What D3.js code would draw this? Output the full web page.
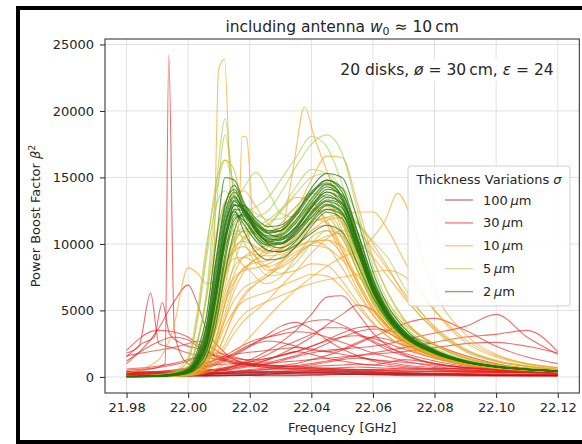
<!DOCTYPE html>
<html>
<head>
<meta charset="utf-8">
<script src="https://cdn.jsdelivr.net/npm/d3@7"></script>
<style>
body { margin: 0; background: #fff; }
text { font-family: "DejaVu Sans", sans-serif; fill: #262626; }
</style>
</head>
<body>
<script>
// frequency grid (GHz) shared by most of the curves
var freqGrid = [21.98, 21.99, 21.995, 22.0, 22.003, 22.006, 22.009, 22.012, 22.015, 22.018, 22.022, 22.026, 22.03,
  22.035, 22.04, 22.045, 22.05, 22.055, 22.06, 22.065, 22.07, 22.08, 22.09, 22.10, 22.11, 22.12];

var xTicks = [21.98, 22.00, 22.02, 22.04, 22.06, 22.08, 22.10, 22.12];
var yTicks = [0, 5000, 10000, 15000, 20000, 25000];
var sigmaLabels = ["100", "30", "10", "5", "2"];

// sigma = 100 um
var curves100 = [
  [100,120,150,180,200,220,250,280,300,320,350,380,400,420,430,420,400,380,350,320,300,260,230,200,180,160],
  [50,60,70,80,90,100,120,140,160,180,200,220,240,260,280,300,310,300,280,260,240,200,170,150,130,120],
  [300,250,200,180,160,150,140,130,120,110,100,90,90,100,120,150,180,200,220,230,220,200,170,150,130,120],
  [80,100,130,160,200,250,300,350,400,450,500,550,600,650,600,550,500,450,400,350,300,250,200,170,150,130],
  [30,40,50,60,70,80,90,100,110,120,130,140,150,160,170,180,190,200,210,200,190,170,150,130,120,110],
  [200,220,240,260,280,300,320,340,360,380,400,420,440,460,480,500,520,540,560,580,600,620,640,600,500,400],
  [150,130,110,100,90,80,80,90,100,120,150,200,250,300,350,300,250,200,150,120,100,90,80,70,60,50],
  [60,70,90,110,140,170,200,230,260,290,320,340,350,340,320,290,260,230,200,180,160,140,120,100,90,80],
  [400,380,350,320,300,280,260,250,240,240,250,270,300,330,360,380,370,340,300,270,240,210,190,170,160,150]
];

// sigma = 30 um
var curves30 = [
  [1000,3500,5500,6900,5500,3500,2500,1800,1300,1000,800,700,600,550,500,450,420,380,340,310,290,260,240,220,200,190],
  [2000,3500,3400,3000,2500,2000,1600,1300,1100,1000,900,850,800,750,700,650,600,550,500,480,460,420,380,350,320,300],
  [200,250,300,350,400,450,500,550,600,700,800,1000,1200,1500,1800,2000,2100,2200,2300,2500,2800,3300,3800,4700,3000,1700],
  [150,200,220,250,280,300,320,350,400,450,500,600,700,850,1000,1200,1400,1600,1800,2000,2200,2600,3000,3200,3500,1900],
  [100,150,200,250,300,400,500,700,900,1100,1500,2000,2600,3500,4700,6000,6100,4800,3300,2300,1700,1000,700,500,400,330],
  [80,100,150,200,250,300,400,500,650,800,1000,1300,1700,2300,3000,3900,4700,5400,5000,3800,2700,1500,900,600,450,360],
  [150,200,300,400,500,700,900,1200,1600,2000,2600,3200,3800,4100,3600,2800,2100,1600,1200,950,800,600,480,400,340,300],
  [100,120,150,180,200,250,300,350,400,500,600,700,850,1000,1300,1600,2000,2500,3000,3500,4000,4400,3500,2300,1500,1000],
  [500,700,900,1200,1500,1700,1800,1700,1500,1300,1100,1300,1600,1900,1700,1400,1200,1000,900,1100,1300,1000,700,500,400,350],
  [200,300,400,600,800,1000,1300,1600,2000,2400,2800,3000,3200,3400,3300,3000,2600,2200,1800,1500,1200,800,550,400,330,280],
  [300,400,500,600,700,800,900,950,1000,1000,950,900,850,800,800,850,900,950,900,800,700,550,450,380,330,300],
  [1600,2000,2200,2500,2700,2500,2000,1600,1300,1100,950,850,800,800,900,1100,1300,1400,1300,1100,900,700,550,450,380,330],
  [250,300,350,400,450,500,550,600,700,800,900,1000,1100,1200,1300,1400,1500,1600,1700,1800,1900,2200,2500,2600,2300,1800],
  [100,150,200,250,300,400,500,600,800,1000,1300,1700,2200,2700,3200,3700,3700,3200,2600,2000,1600,1000,700,500,400,330],
  [1200,2600,3000,2800,2300,1900,1500,1200,1000,900,800,700,650,600,600,650,700,750,700,650,600,500,420,370,330,300],
  [300,350,400,500,600,800,1000,1300,1700,2100,2500,2700,2600,2300,2000,1900,2100,2600,3000,2800,2400,1600,1000,700,500,400],
  [50,80,100,150,200,300,400,600,800,1000,1200,1400,1600,1900,2300,2800,3300,3700,3800,3300,2700,1700,1100,750,550,420],
  [200,300,400,500,700,900,1100,1400,1800,2200,2600,3000,3400,3800,4200,4300,3900,3300,2700,2200,1800,1200,800,550,420,340],
  [600,800,1000,1300,1500,1600,1600,1500,1400,1300,1300,1400,1600,1900,2300,2700,3000,3100,2900,2500,2100,1400,900,600,450,370],
  [100,150,200,300,400,500,600,700,800,900,1000,1100,1300,1600,2000,2500,3000,3400,3600,3500,3200,2400,1600,1000,650,460],
  [300,400,500,700,900,1100,1300,1500,1700,1800,1900,2000,2100,2200,2100,1900,1700,1500,1300,1200,1100,900,700,550,450,380]
];
// 30 um curves with narrow spikes, own frequency points
var spike30F = [
  [21.98,21.985,21.99,21.9925,21.9937,21.9955,21.998,22.0,22.005,22.01,22.02,22.03,22.04,22.05,22.06,22.07,22.08,22.09,22.10,22.11,22.12],
  [21.98,21.984,21.9878,21.9905,21.995,22.0,22.01,22.02,22.03,22.04,22.05,22.06,22.07,22.08,22.09,22.10,22.11,22.12],
  [21.98,21.985,21.989,21.9916,21.994,21.998,22.005,22.01,22.02,22.03,22.04,22.05,22.06,22.07,22.08,22.09,22.10,22.11,22.12]
];
var spike30V = [
  [400,500,700,1000,24200,3500,1500,1000,600,500,400,350,300,280,260,240,220,200,190,180,170],
  [1800,2300,6300,2500,2200,1800,1300,900,700,600,500,450,400,380,350,330,300,280],
  [1500,2500,3000,5600,3200,2500,2000,1500,1000,800,700,600,500,450,400,380,350,320,300]
];

// sigma = 10 um
var curves10 = [
  [20,45,90,220,600,1300,2800,5500,7800,9000,9500,10000,10800,12500,14800,16600,16500,13000,9000,6300,4400,2400,1400,900,650,480],
  [15,30,60,150,450,1000,2400,4800,7000,8200,8600,8800,9500,10500,11500,12000,12200,12400,12400,11000,8800,5000,2600,1500,950,650],
  [50,120,300,1200,4500,9500,14500,16300,15500,12000,9000,8000,8200,9000,10000,10300,9200,7200,5200,3700,2700,1600,1000,700,520,400],
  [300,1200,3500,8200,7800,7000,7200,8500,9500,9800,9000,8200,7800,8000,8500,8400,7200,5600,4100,3000,2300,1400,900,640,480,380],
  [30,70,150,400,1000,2200,5000,8500,10500,11200,11000,10800,11500,12800,13800,13500,11000,8000,5500,3800,2800,1650,1030,720,530,410],
  [20,45,90,250,650,1500,3500,6000,7500,8000,8200,8500,9000,9800,10200,9800,8200,6300,4600,3400,2500,1500,950,670,500,390],
  [15,30,60,130,320,700,1600,3200,4800,6000,7000,7600,8300,9200,10000,10600,10800,10200,9000,7500,6000,3600,2000,1200,800,560],
  [40,100,250,800,2600,6000,10500,13200,13800,14000,12800,11500,11000,11500,12500,12800,11500,8800,6100,4300,3100,1800,1100,750,560,430],
  [20,45,100,280,750,1800,4200,7500,9500,10500,11000,11500,12400,13500,13200,11500,9000,6600,4700,3400,2500,1500,950,670,500,390],
  [15,30,55,110,260,600,1300,2500,3800,4700,5300,5700,6100,6600,7000,7300,7500,7700,7900,8000,7600,5000,2800,1600,1000,700],
  [15,35,70,160,420,1000,2200,3800,5000,5700,6100,6400,6800,7300,7700,7600,6700,5300,4000,3000,2300,1400,900,640,480,380],
  [25,60,130,350,900,2100,4700,8000,9800,10200,9800,9400,9600,10600,12000,12600,11700,9000,6400,4500,3200,1850,1120,760,570,430],
  [20,40,80,200,550,1300,3000,5500,7200,8100,8900,9800,10900,12200,12700,11800,9500,7000,5000,3600,2600,1550,980,690,510,400],
  [35,80,180,500,1400,3300,6800,9800,10800,10500,9700,9300,9700,10900,11900,11600,9800,7300,5200,3700,2700,1600,1000,700,520,400],
  [10,25,50,120,300,700,1600,3200,5000,6200,7000,7600,8500,9800,11000,11800,12000,11500,10000,8200,6200,3500,1900,1150,780,560],
  [20,40,80,200,500,1100,2400,4300,5800,6700,7200,7800,8600,9400,9900,9700,8800,7600,6300,5100,4000,2400,1450,920,660,490],
  [25,55,110,280,700,1600,3600,6400,8300,9000,9200,9100,9200,9700,10200,10300,9800,8600,7000,5500,4200,2500,1500,950,670,500],
  [10,20,40,90,220,500,1100,2200,3300,4200,5000,5800,6800,8000,9300,10400,11000,10800,9600,8000,6400,3800,2100,1250,830,580],
  [30,70,140,380,1000,2300,5000,7800,8900,9000,8600,8300,8700,9800,11000,11400,10400,8000,5800,4100,3000,1750,1080,740,550,420]
];
var spike10F = [
  [21.98,21.99,22.0,22.005,22.008,22.0099,22.0118,22.0137,22.016,22.02,22.025,22.03,22.035,22.04,22.045,22.05,22.055,22.06,22.07,22.08,22.09,22.10,22.11,22.12],
  [21.98,21.99,22.0,22.005,22.01,22.014,22.0165,22.0175,22.019,22.021,22.025,22.03,22.035,22.04,22.045,22.05,22.055,22.06,22.07,22.08,22.09,22.10,22.11,22.12],
  [21.98,21.99,22.0,22.005,22.01,22.015,22.02,22.025,22.03,22.034,22.0378,22.041,22.045,22.05,22.055,22.06,22.065,22.07,22.08,22.09,22.10,22.11,22.12],
  [21.98,21.99,22.0,22.01,22.02,22.03,22.04,22.05,22.056,22.06,22.064,22.068,22.072,22.076,22.08,22.09,22.10,22.11,22.12]
];
var spike10V = [
  [40,90,400,1800,6000,23100,23900,14000,9000,8000,7000,7500,9000,10500,11000,9500,7000,5000,2800,1600,1000,700,520,400],
  [30,70,300,1500,5000,9000,12000,18100,18000,12000,10000,9500,10000,11500,12000,10500,8000,5600,3000,1700,1050,720,530,410],
  [20,40,200,900,3000,6500,8500,9200,10500,15500,20300,18000,15500,12000,8500,5800,4000,2900,1700,1050,730,540,420],
  [10,20,80,700,3000,5500,7500,9000,9600,10500,11800,13800,12200,9000,6500,3200,1700,1000,700]
];

// sigma = 5 um
var curves5 = [
  [50,110,250,800,2800,6500,14000,19400,13500,12500,11500,10800,11000,11800,13000,13600,12300,9000,6000,4200,3000,1800,1100,760,560,430],
  [45,100,220,700,2500,6000,12500,18200,13800,12600,11200,10400,10500,11600,13200,14300,13200,9800,6600,4500,3200,1850,1120,760,570,430],
  [30,60,120,330,900,2200,5200,9000,11500,12300,12800,13500,14800,16500,18100,17300,14500,10500,7200,5000,3500,2000,1200,800,590,450],
  [20,45,90,250,700,1700,4200,7800,10500,11800,12000,12500,13800,15800,17500,18200,16800,12500,8300,5600,3900,2200,1300,850,620,460],
  [45,100,210,600,1800,4800,10000,13000,13300,14200,15400,14000,12300,12000,12800,13200,12000,9000,6200,4300,3100,1800,1100,750,560,430],
  [60,140,320,1200,4200,9000,12800,14000,12800,11500,10300,9900,10200,11200,12500,13000,11600,8400,5700,4000,2900,1700,1050,730,540,420],
  [35,80,170,450,1200,3000,7000,10500,11500,10200,8500,7600,7700,8600,10000,11000,10600,8400,6000,4200,3000,1750,1080,740,550,420],
  [15,30,60,160,400,1000,2600,5600,8600,10300,10800,10600,10800,11800,13300,14400,14200,12000,8800,6200,4300,2400,1400,900,650,480],
  [30,70,140,380,1000,2500,6000,10000,12300,12800,12300,11800,11900,12800,14000,14500,13300,9900,6800,4700,3300,1900,1140,770,570,440],
  [20,50,100,260,650,1600,4000,7500,10000,11000,10800,10300,10400,11100,12000,12600,12600,11600,10200,8900,6800,3700,2000,1200,800,560],
  [40,90,190,550,1500,3800,8500,12500,13700,12500,10700,9800,9700,10400,11800,12900,12500,9900,6900,4800,3400,1950,1180,790,580,440],
  [70,170,400,1500,5000,10000,13800,16300,14500,13000,11800,11000,11000,11700,12500,12400,10800,8000,5600,4000,2900,1700,1050,730,540,420],
  [25,55,110,300,800,1900,4600,8200,10300,11000,11300,11800,12600,13800,15000,15300,14000,10800,7600,5200,3700,2100,1250,830,610,450],
  [30,70,150,420,1100,2800,6400,9800,11000,10900,10900,11300,12500,14300,15600,15300,13100,9600,6600,4600,3300,1900,1150,780,580,440]
];

// sigma = 2 um
var curves2 = [
  [30,70,150,400,1200,2700,6500,11000,13200,12400,11000,10300,10400,11300,12700,13700,12800,9500,6300,4300,3100,1800,1100,750,560,430],
  [40,90,190,520,1600,3800,8500,12800,14400,13000,11300,10600,10700,11800,13400,14500,13600,10300,6900,4700,3300,1900,1150,780,580,440],
  [25,55,110,300,800,1900,4600,8800,11800,12200,11100,10000,9700,10300,11600,12600,12200,9600,6600,4500,3200,1850,1120,760,570,430],
  [30,75,160,450,1400,3300,7600,12000,13600,12300,10500,9500,9400,10200,11700,12900,12300,9400,6400,4400,3100,1800,1100,750,560,430],
  [45,110,230,650,2000,4600,10000,15000,14800,13200,11600,10900,11000,12100,13700,14800,13900,10500,7000,4800,3400,1950,1180,800,590,450],
  [30,70,150,420,1100,2600,6200,10600,12500,11000,9400,8800,8900,9800,11300,12400,11900,9300,6400,4400,3100,1800,1100,750,560,430],
  [30,65,140,380,1000,2400,6000,10500,12900,12600,11400,10800,11000,12200,14200,15300,15000,11800,7900,5300,3700,2050,1230,820,600,450],
  [25,60,130,350,950,2300,5600,10000,12600,12500,11200,10400,10300,11000,12300,13300,13000,10200,7000,4700,3300,1900,1140,770,570,440],
  [35,80,170,480,1350,3100,7200,11500,13000,11900,10500,9900,10000,11100,12700,13900,13300,10100,6800,4600,3200,1850,1120,760,570,430],
  [30,70,150,410,1150,2600,6300,10600,12400,11500,10200,9500,9400,9900,10800,11400,10900,8500,6000,4200,3000,1750,1080,740,550,420],
  [20,50,100,260,650,1500,3900,7800,11000,12400,11700,10800,10500,11200,12800,14100,13700,10900,7400,5000,3500,2000,1200,800,590,450],
  [40,85,180,500,1450,3500,8000,12300,13900,12800,11200,10500,10600,11600,13100,14300,13400,10000,6700,4600,3200,1850,1120,760,570,430],
  [30,70,160,430,1250,2900,6900,11300,13300,12700,11500,11000,11200,12300,13800,14600,13500,10100,6700,4500,3200,1850,1120,760,570,430],
  [25,60,130,360,1000,2400,5900,10200,12200,11800,10700,10000,10000,10800,12200,13200,12700,9900,6800,4600,3250,1870,1130,770,570,440],
  [35,80,170,470,1300,3000,7000,11600,13500,12600,11000,10100,10000,10700,12000,13000,12400,9600,6500,4500,3150,1820,1110,755,565,432],
  [30,70,150,400,1100,2500,6100,10400,12900,12900,11900,11300,11400,12400,13900,14800,14200,10900,7300,4900,3450,1970,1180,790,585,445],
  [40,90,190,540,1700,4000,8800,13000,14100,12600,10900,10200,10300,11300,12900,13900,13000,9800,6600,4550,3200,1850,1120,760,570,430],
  [25,55,120,320,850,2000,4900,9300,12000,12100,11000,10200,10100,10900,12400,13500,13100,10400,7100,4800,3350,1920,1160,780,580,440]
];

var colors = ["#a3161b", "#e3231f", "#f7a11a", "#9ccc3c", "#26750c"];
var opac = [0.65, 0.65, 0.65, 0.6, 0.72];

var w = 582, h = 444;
var margin = {top: 39, right: 2.7, bottom: 51, left: 105};

var svg = d3.select("body").append("svg")
  .attr("width", w)
  .attr("height", h);

// black frame around the figure
svg.append("rect")
  .attr("x", 18).attr("y", 8)
  .attr("width", 620).attr("height", 434)
  .attr("fill", "none")
  .attr("stroke", "#000")
  .attr("stroke-width", 4);

var x = d3.scaleLinear().domain([21.973, 22.127]).range([margin.left, w - margin.right]);
var y = d3.scaleLinear().domain([-1210, 25410]).range([h - margin.bottom, margin.top]);

svg.append("clipPath").attr("id", "clip")
  .append("rect")
  .attr("x", margin.left).attr("y", margin.top)
  .attr("width", w - margin.right - margin.left)
  .attr("height", h - margin.bottom - margin.top);

// grid
svg.append("g").selectAll("line").data(xTicks).enter().append("line")
  .attr("x1", function(d) { return x(d); }).attr("x2", function(d) { return x(d); })
  .attr("y1", margin.top).attr("y2", h - margin.bottom)
  .attr("stroke", "#e1e1e1").attr("stroke-width", 1);
svg.append("g").selectAll("line").data(yTicks).enter().append("line")
  .attr("y1", function(d) { return y(d); }).attr("y2", function(d) { return y(d); })
  .attr("x1", margin.left).attr("x2", w - margin.right)
  .attr("stroke", "#e1e1e1").attr("stroke-width", 1);

var line = d3.line()
  .x(function(d) { return x(d[0]); })
  .y(function(d) { return y(d[1]); })
  .curve(d3.curveMonotoneX);

var plot = svg.append("g").attr("clip-path", "url(#clip)");

function drawGroup(curves, fs, vs, k) {
  var g = plot.append("g")
    .attr("fill", "none")
    .attr("stroke", colors[k])
    .attr("stroke-opacity", opac[k])
    .attr("stroke-width", 1.1);
  curves.forEach(function(c) {
    g.append("path").attr("d", line(c.map(function(v, i) { return [freqGrid[i], v]; })));
  });
  for (var i = 0; i < fs.length; i++) {
    g.append("path").attr("d", line(fs[i].map(function(f, j) { return [f, vs[i][j]]; })));
  }
}
drawGroup(curves100, [], [], 0);
drawGroup(curves30, spike30F, spike30V, 1);
drawGroup(curves10, spike10F, spike10V, 2);
drawGroup(curves5, [], [], 3);
drawGroup(curves2, [], [], 4);

// axes
var xAxis = svg.append("g")
  .attr("transform", "translate(0," + (h - margin.bottom) + ")")
  .call(d3.axisBottom(x).tickValues(xTicks).tickFormat(d3.format(".2f")).tickSize(5).tickPadding(5));
var yAxis = svg.append("g")
  .attr("transform", "translate(" + margin.left + ",0)")
  .call(d3.axisLeft(y).tickValues(yTicks).tickFormat(d3.format("d")).tickSize(5).tickPadding(6));
[xAxis, yAxis].forEach(function(a) {
  a.select(".domain").remove();
  a.selectAll(".tick line").attr("stroke", "#262626");
  a.selectAll(".tick text").style("font-size", "13px").style("font-family", "DejaVu Sans").attr("fill", "#262626");
});

// spines
svg.append("rect")
  .attr("x", margin.left).attr("y", margin.top)
  .attr("width", w - margin.right - margin.left)
  .attr("height", h - margin.bottom - margin.top)
  .attr("fill", "none").attr("stroke", "#262626").attr("stroke-width", 1);

// title
var title = svg.append("text")
  .attr("x", (margin.left + w - margin.right) / 2).attr("y", 32)
  .attr("text-anchor", "middle")
  .style("font-size", "15.5px");
title.append("tspan").text("including antenna ");
title.append("tspan").style("font-style", "italic").text("w");
title.append("tspan").attr("dy", 3).style("font-size", "11px").text("0");
title.append("tspan").attr("dy", -3).text(" \u2248 10\u2009cm");

// annotation with white box
var ann = svg.append("g");
var annText = ann.append("text")
  .attr("x", 447).attr("y", 75)
  .attr("text-anchor", "middle")
  .style("font-size", "15.5px");
annText.append("tspan").text("20 disks, ");
annText.append("tspan").style("font-style", "italic").text("\u00f8");
annText.append("tspan").text(" = 30\u2009cm, ");
annText.append("tspan").style("font-style", "italic").text("\u03b5");
annText.append("tspan").text(" = 24");
var bb = annText.node().getBBox();
ann.insert("rect", "text")
  .attr("x", bb.x - 3).attr("y", bb.y - 2)
  .attr("width", bb.width + 6).attr("height", bb.height + 4)
  .attr("fill", "#fff");

// axis labels
svg.append("text")
  .attr("x", (margin.left + w - margin.right) / 2).attr("y", 432)
  .attr("text-anchor", "middle")
  .style("font-size", "13px")
  .text("Frequency [GHz]");
var yl = svg.append("text")
  .attr("transform", "translate(40," + ((margin.top + h - margin.bottom) / 2) + ") rotate(-90)")
  .attr("text-anchor", "middle")
  .style("font-size", "13px");
yl.append("tspan").text("Power Boost Factor ");
yl.append("tspan").style("font-style", "italic").text("\u03b2");
yl.append("tspan").attr("dy", -5).style("font-size", "9.5px").text("2");

// legend
var leg = svg.append("g");
leg.append("rect")
  .attr("x", 408).attr("y", 166)
  .attr("width", 162).attr("height", 140)
  .attr("rx", 3)
  .attr("fill", "#fff").attr("fill-opacity", 0.85)
  .attr("stroke", "#d0d0d0");
var lt = leg.append("text")
  .attr("x", 489).attr("y", 184)
  .attr("text-anchor", "middle")
  .style("font-size", "13px");
lt.append("tspan").text("Thickness Variations ");
lt.append("tspan").style("font-style", "italic").text("\u03c3");
sigmaLabels.forEach(function(s, i) {
  var yy = 200 + i * 22.9;
  leg.append("line")
    .attr("x1", 445).attr("x2", 473)
    .attr("y1", yy).attr("y2", yy)
    .attr("stroke", colors[i]).attr("stroke-opacity", opac[i] * 0.8)
    .attr("stroke-width", 1.5);
  var t = leg.append("text")
    .attr("x", 483).attr("y", yy + 4.5)
    .style("font-size", "13px");
  t.append("tspan").text(s + "\u2009");
  t.append("tspan").style("font-style", "italic").text("\u03bc");
  t.append("tspan").text("m");
});
</script>
</body>
</html>
